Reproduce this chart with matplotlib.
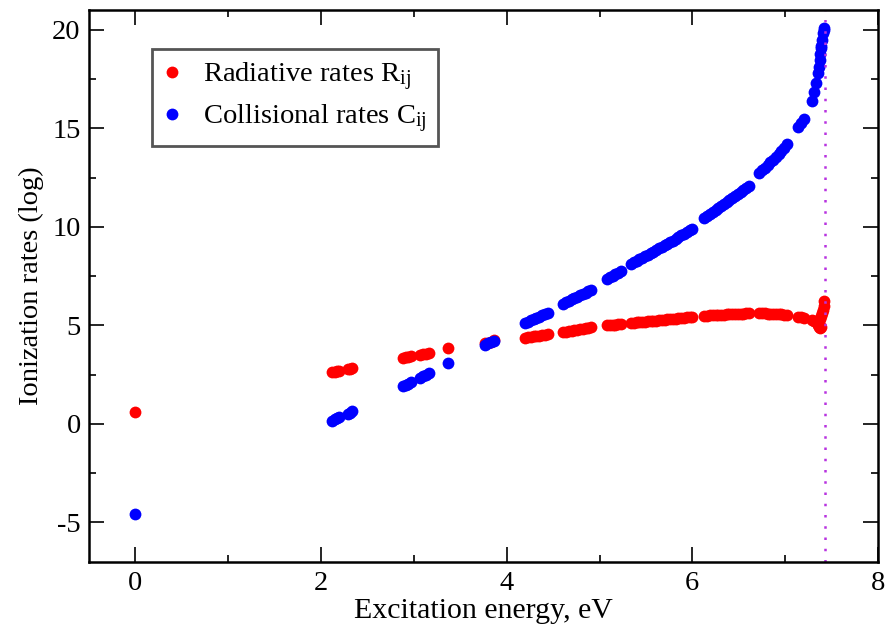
import matplotlib
matplotlib.use("Agg")
import matplotlib.pyplot as plt
from matplotlib.ticker import MultipleLocator

plt.rcParams['font.family'] = ['Liberation Serif', 'DejaVu Serif']
plt.rcParams['mathtext.fontset'] = 'custom'
plt.rcParams['mathtext.rm'] = 'Liberation Serif'
plt.rcParams['mathtext.it'] = 'Liberation Serif:italic'
plt.rcParams['axes.unicode_minus'] = False  # "-5" com hifen

# niveis isolados (baixa energia)
x_low = [0.00, 2.12, 2.15, 2.17, 2.19, 2.29, 2.31, 2.33,
         2.88, 2.91, 2.94, 2.97, 3.07, 3.10, 3.13, 3.16,
         3.37, 3.77, 3.80, 3.83, 3.86]
rad_low = [0.62, 2.62, 2.64, 2.66, 2.68, 2.76, 2.79, 2.81,
           3.36, 3.38, 3.40, 3.42, 3.50, 3.53, 3.56, 3.58,
           3.83, 4.08, 4.12, 4.17, 4.23]
col_low = [-4.60, 0.15, 0.22, 0.28, 0.33, 0.52, 0.57, 0.63,
           1.92, 1.98, 2.04, 2.10, 2.32, 2.40, 2.48, 2.57,
           3.08, 4.02, 4.08, 4.15, 4.22]

# niveis densos acima de 4 eV (grupos separados por pequenos buracos)
x_high = [4.20, 4.23, 4.26, 4.29, 4.32, 4.35, 4.38, 4.41, 4.44,
          4.61, 4.64, 4.67, 4.70, 4.73, 4.76, 4.79, 4.82, 4.85, 4.88, 4.91,
          5.08, 5.11, 5.14, 5.17, 5.20, 5.23,
          5.34, 5.37, 5.40, 5.43, 5.46, 5.49, 5.52, 5.55, 5.58, 5.61, 5.64,
          5.67, 5.70, 5.73, 5.76, 5.79, 5.82, 5.85, 5.88, 5.91, 5.94, 5.97, 6.00,
          6.13, 6.16, 6.19, 6.22, 6.25, 6.28, 6.31, 6.34, 6.37, 6.40, 6.43,
          6.46, 6.49, 6.52, 6.55, 6.58, 6.61,
          6.72, 6.75, 6.78, 6.81, 6.84, 6.87, 6.90, 6.93, 6.96, 6.99, 7.02,
          7.14, 7.17, 7.20,
          7.29, 7.31, 7.33, 7.35, 7.36, 7.37, 7.38, 7.385, 7.39, 7.40, 7.41, 7.415, 7.42]
rad_high = [4.36, 4.38, 4.41, 4.43, 4.46, 4.48, 4.51, 4.53, 4.56,
            4.65, 4.67, 4.70, 4.72, 4.75, 4.77, 4.80, 4.82, 4.85, 4.88, 4.90,
            4.99, 5.00, 5.02, 5.03, 5.04, 5.05,
            5.12, 5.13, 5.15, 5.16, 5.17, 5.19, 5.20, 5.22, 5.23, 5.24, 5.26,
            5.27, 5.29, 5.30, 5.31, 5.33, 5.34, 5.36, 5.37, 5.38, 5.40, 5.41, 5.43,
            5.48, 5.49, 5.50, 5.51, 5.52, 5.53, 5.54, 5.54, 5.55, 5.56, 5.57,
            5.57, 5.58, 5.59, 5.59, 5.60, 5.60,
            5.61, 5.60, 5.60, 5.59, 5.58, 5.58, 5.57, 5.56, 5.55, 5.53, 5.51,
            5.43, 5.41, 5.38,
            5.25, 5.22, 5.15, 5.00, 4.92, 4.85, 5.30, 5.45, 4.92, 5.60, 5.80, 6.00, 6.25]
col_high = [5.13, 5.19, 5.25, 5.31, 5.38, 5.44, 5.50, 5.56, 5.63,
            6.10, 6.17, 6.24, 6.31, 6.38, 6.45, 6.52, 6.59, 6.66, 6.74, 6.81,
            7.37, 7.44, 7.51, 7.59, 7.66, 7.73,
            8.13, 8.21, 8.28, 8.36, 8.43, 8.51, 8.59, 8.66, 8.74, 8.82, 8.90,
            8.98, 9.06, 9.14, 9.22, 9.30, 9.39, 9.47, 9.56, 9.64, 9.73, 9.82, 9.91,
            10.45, 10.55, 10.65, 10.75, 10.85, 10.95, 11.05, 11.15, 11.25, 11.35, 11.45,
            11.55, 11.65, 11.76, 11.87, 11.98, 12.09,
            12.73, 12.86, 13.00, 13.13, 13.27, 13.41, 13.55, 13.70, 13.86, 14.02, 14.19,
            15.05, 15.25, 15.45,
            16.40, 16.85, 17.30, 17.80, 18.10, 18.45, 18.75, 19.05, 19.20, 19.50, 19.85, 20.00, 20.10]

e_ion = 7.43  # limite de ionizacao

x_all = x_low + x_high
rad_all = rad_low + rad_high
col_all = col_low + col_high

fig = plt.figure(figsize=(8.94, 6.28), dpi=100)
ax = fig.add_subplot(111)
fig.subplots_adjust(left=0.0996, right=0.9821, bottom=0.1056, top=0.984)

ax.plot(x_all, rad_all, 'o', color='#ff0000', ms=8.5, mec='none', label=r'Radiative rates R$_{\mathrm{ij}}$')
ax.plot(x_all, col_all, 'o', color='#0000ff', ms=8.5, mec='none', label=r'Collisional rates C$_{\mathrm{ij}}$')
ax.axvline(e_ion, color='#b833e0', lw=1.8, linestyle=(0, (1, 3.5)))

ax.set_xlim(-0.5, 8)
ax.set_ylim(-7, 21)
ax.xaxis.set_major_locator(MultipleLocator(2))
ax.xaxis.set_minor_locator(MultipleLocator(1))
ax.yaxis.set_major_locator(MultipleLocator(5))
ax.yaxis.set_minor_locator(MultipleLocator(2.5))
ax.tick_params(which='both', direction='in', top=True, right=True, labelsize=20.5, width=1.2)
ax.tick_params(which='major', length=11)
ax.tick_params(which='minor', length=5)
ax.tick_params(axis='x', pad=7)
ax.tick_params(axis='y', pad=6)
for s in ax.spines.values():
    s.set_linewidth(1.8)

ax.set_xlabel('Excitation energy, eV', fontsize=21.5, labelpad=1.5)
ax.set_ylabel('Ionization rates (log)', fontsize=20.5, labelpad=6)

leg = ax.legend(loc='upper left', bbox_to_anchor=(0.0795, 0.929), borderaxespad=0,
                fontsize=20.5, handlelength=0.6, handletextpad=0.8, borderpad=0.4,
                labelspacing=0.3, fancybox=False, framealpha=1, numpoints=1)
leg.get_frame().set_edgecolor('#555555')
leg.get_frame().set_linewidth(2)

plt.savefig('out.png', dpi=100)
